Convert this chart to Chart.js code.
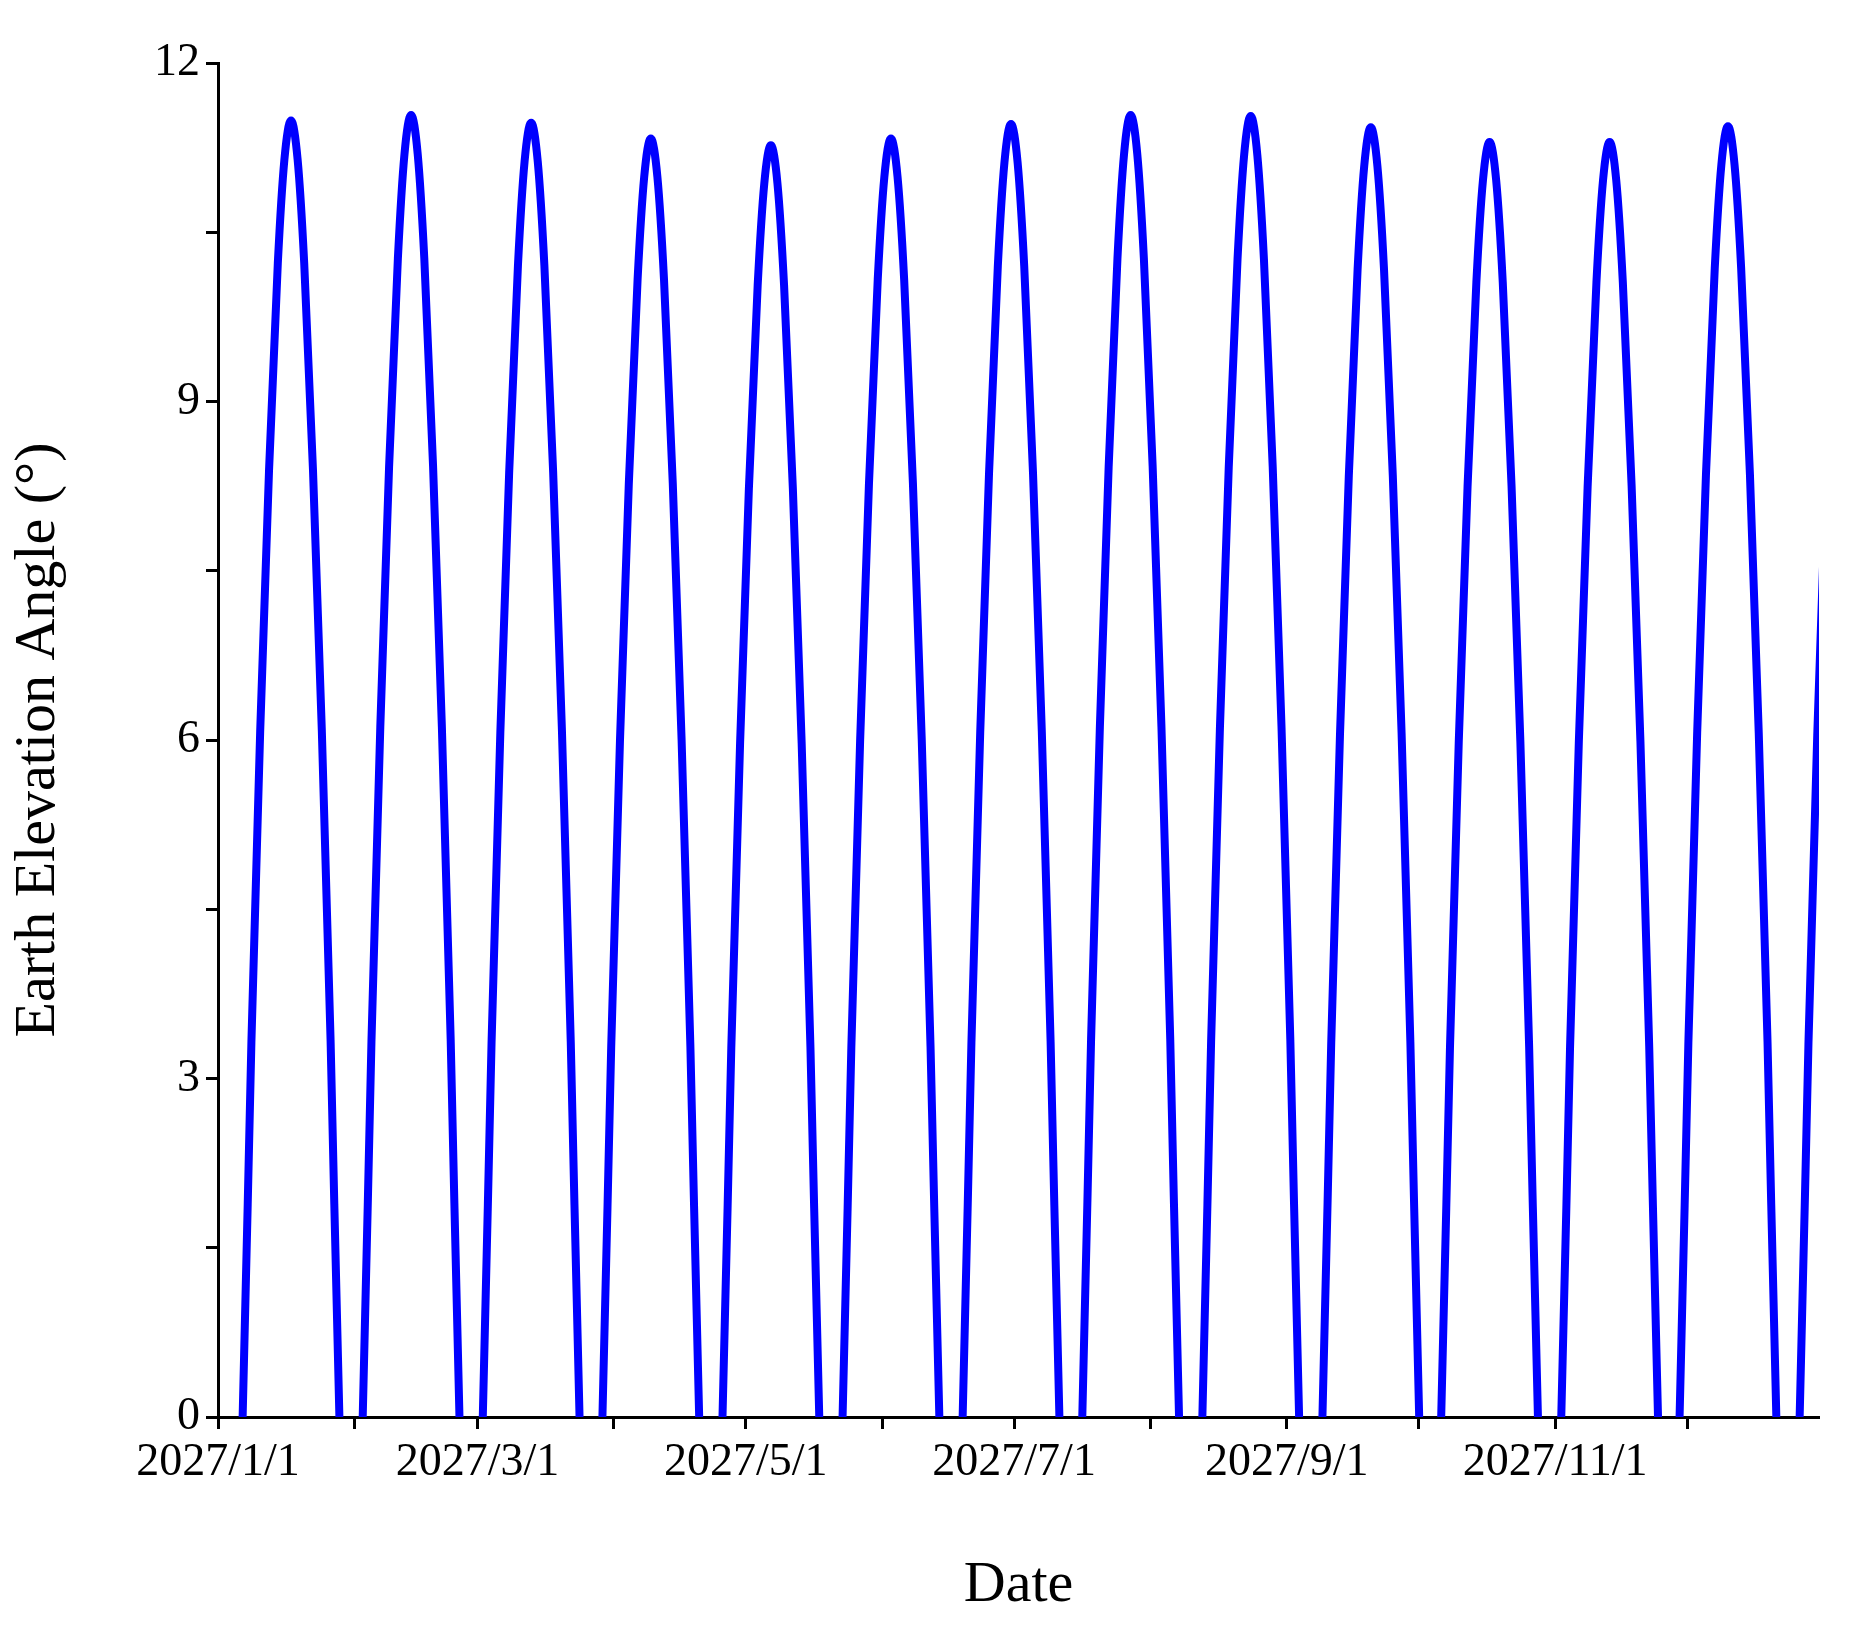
<!DOCTYPE html>
<html>
<head>
<meta charset="utf-8">
<script src="https://cdn.jsdelivr.net/npm/chart.js@4.4.0/dist/chart.umd.min.js"></script>
<style>
  body { margin: 0; background: #fff; }
</style>
</head>
<body>
<canvas id="elevChart" width="1857" height="1625"></canvas>
<script>
// day of year (from 2027/1/1) at each peak
const peakDays = [16.6, 43.9, 71.2, 98.4, 125.7, 153.0, 180.3, 207.5, 234.8, 262.1, 289.1, 316.4, 343.3, 370.6];
const peakValues = [11.49, 11.54, 11.47, 11.33, 11.27, 11.33, 11.46, 11.54, 11.53, 11.43, 11.30, 11.30, 11.44, 11.4];
// shape of one arch: days from peak and fraction of the peak value
const shapeOffsets = [-13.6, -11, -9, -7, -5, -3, -1.5, 0, 1.5, 3, 5, 7, 9, 11];
const shapeFractions = [-0.2, 0, 0.29, 0.53, 0.73, 0.89, 0.97, 1, 0.97, 0.89, 0.73, 0.53, 0.29, 0];
// month starts for the x ticks
const monthDays = [0, 31, 59, 90, 120, 151, 181, 212, 243, 273, 304, 334];
const monthLabels = ['2027/1/1', '', '2027/3/1', '', '2027/5/1', '', '2027/7/1', '', '2027/9/1', '', '2027/11/1', ''];

const points = [];
peakDays.forEach((d, i) => {
    shapeOffsets.forEach((o, j) => {
        points.push({ x: d + o, y: peakValues[i] * shapeFractions[j] });
    });
});

const fontFamily = "'Liberation Serif', 'Times New Roman', serif";

new Chart(document.getElementById('elevChart').getContext('2d'), {
    type: 'line',
    data: {
        datasets: [{
            data: points,
            borderColor: '#0000ff',
            borderWidth: 8,
            pointRadius: 0,
            cubicInterpolationMode: 'monotone',
            clip: 0
        }]
    },
    options: {
        responsive: false,
        animation: false,
        devicePixelRatio: 1,
        layout: { padding: { top: 63, right: 38, left: 0, bottom: 0 } },
        plugins: { legend: { display: false }, tooltip: { enabled: false } },
        scales: {
            x: {
                type: 'linear',
                min: 0,
                max: 364,
                afterBuildTicks: axis => { axis.ticks = monthDays.map(v => ({ value: v })); },
                afterFit: axis => { axis.height = 208; },
                ticks: {
                    autoSkip: false,
                    maxRotation: 0,
                    color: '#000',
                    font: { family: fontFamily, size: 46 },
                    padding: 6,
                    callback: (v, i) => monthLabels[i]
                },
                grid: { drawOnChartArea: false, tickLength: 12, tickWidth: 3, color: '#000' },
                border: { color: '#000', width: 3 },
                title: {
                    display: true,
                    text: 'Date',
                    color: '#000',
                    font: { family: fontFamily, size: 58 },
                    padding: { top: 20 }
                }
            },
            y: {
                min: 0,
                max: 12,
                ticks: {
                    stepSize: 1.5,
                    color: '#000',
                    font: { family: fontFamily, size: 46 },
                    padding: 6,
                    callback: v => (v % 3 === 0 ? v : '')
                },
                afterFit: axis => { axis.width = 218; },
                grid: { drawOnChartArea: false, tickLength: 12, tickWidth: 3, color: '#000' },
                border: { color: '#000', width: 3 },
                title: {
                    display: true,
                    text: 'Earth Elevation Angle (°)',
                    color: '#000',
                    font: { family: fontFamily, size: 58 },
                    padding: { bottom: 20 }
                }
            }
        }
    }
});
</script>
</body>
</html>
